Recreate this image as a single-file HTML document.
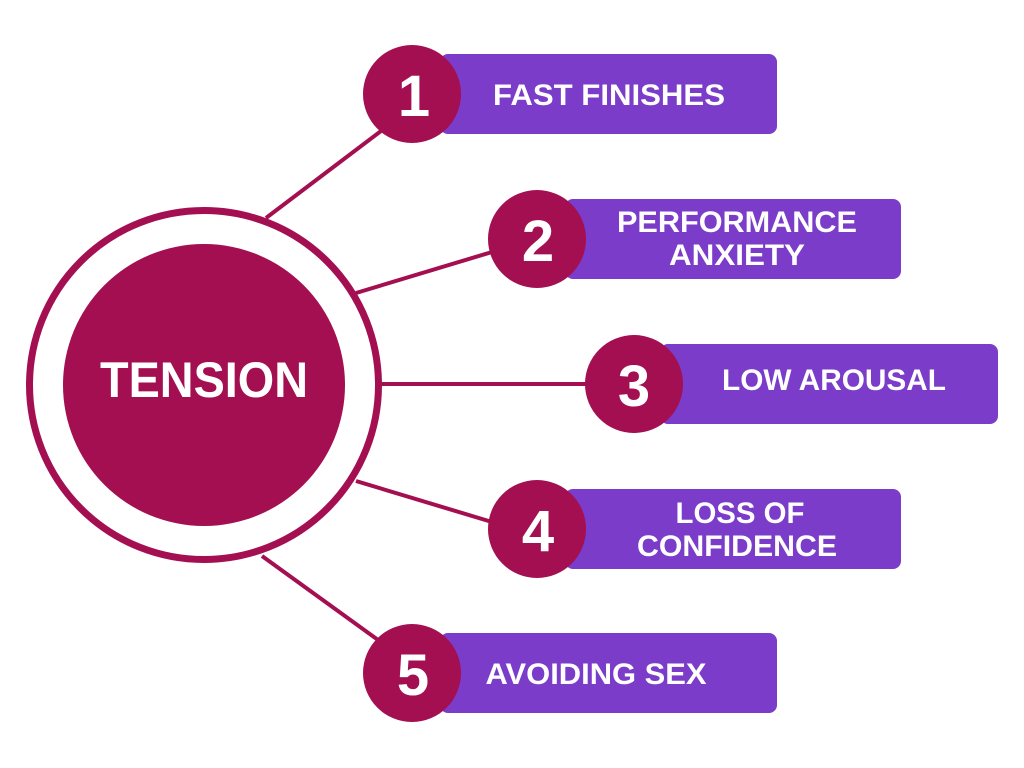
<!DOCTYPE html>
<html><head><meta charset="utf-8"><style>
html,body{margin:0;padding:0;background:#fff;}
svg{display:block;}
text{font-family:"Liberation Sans",sans-serif;font-weight:bold;fill:#fff;}
</style></head><body>
<svg width="1024" height="768" viewBox="0 0 1024 768">
<g stroke="#A30F50" stroke-width="4" fill="none">
<line x1="266" y1="218" x2="385" y2="128"/>
<line x1="356" y1="293" x2="492" y2="252"/>
<line x1="382" y1="384" x2="590" y2="384"/>
<line x1="356" y1="481" x2="492" y2="522"/>
<line x1="262" y1="556" x2="385" y2="645"/>
<circle cx="204" cy="385" r="174.5" stroke-width="7"/>
</g>
<circle cx="204" cy="385" r="141" fill="#A30F50"/>
<text x="204" y="397" font-size="50" text-anchor="middle" textLength="208" lengthAdjust="spacingAndGlyphs">TENSION</text>
<g fill="#7B3CC9">
<rect x="440" y="54" width="337" height="80" rx="8"/>
<rect x="565" y="199" width="336" height="80" rx="8"/>
<rect x="660" y="344" width="338" height="80" rx="8"/>
<rect x="565" y="489" width="336" height="80" rx="8"/>
<rect x="440" y="633" width="337" height="80" rx="8"/>
</g>
<g fill="#A30F50">
<circle cx="412" cy="94" r="49"/>
<circle cx="537" cy="239" r="49"/>
<circle cx="634" cy="384" r="49"/>
<circle cx="537" cy="529" r="49"/>
<circle cx="412" cy="673" r="49"/>
</g>
<g font-size="58" text-anchor="middle">
<text x="414" y="116">1</text>
<text x="538" y="261">2</text>
<text x="634" y="406">3</text>
<text x="538" y="551">4</text>
<text x="413" y="695">5</text>
</g>
<g font-size="30" text-anchor="middle" lengthAdjust="spacingAndGlyphs">
<text x="609" y="105" textLength="232" lengthAdjust="spacingAndGlyphs">FAST FINISHES</text>
<text x="737" y="232" textLength="240" lengthAdjust="spacingAndGlyphs">PERFORMANCE</text>
<text x="737" y="265" textLength="136" lengthAdjust="spacingAndGlyphs">ANXIETY</text>
<text x="834" y="390" textLength="224" lengthAdjust="spacingAndGlyphs">LOW AROUSAL</text>
<text x="740" y="523" textLength="129" lengthAdjust="spacingAndGlyphs">LOSS OF</text>
<text x="737" y="556" textLength="200" lengthAdjust="spacingAndGlyphs">CONFIDENCE</text>
<text x="596" y="684" textLength="221" lengthAdjust="spacingAndGlyphs">AVOIDING SEX</text>
</g>
</svg>
</body></html>
